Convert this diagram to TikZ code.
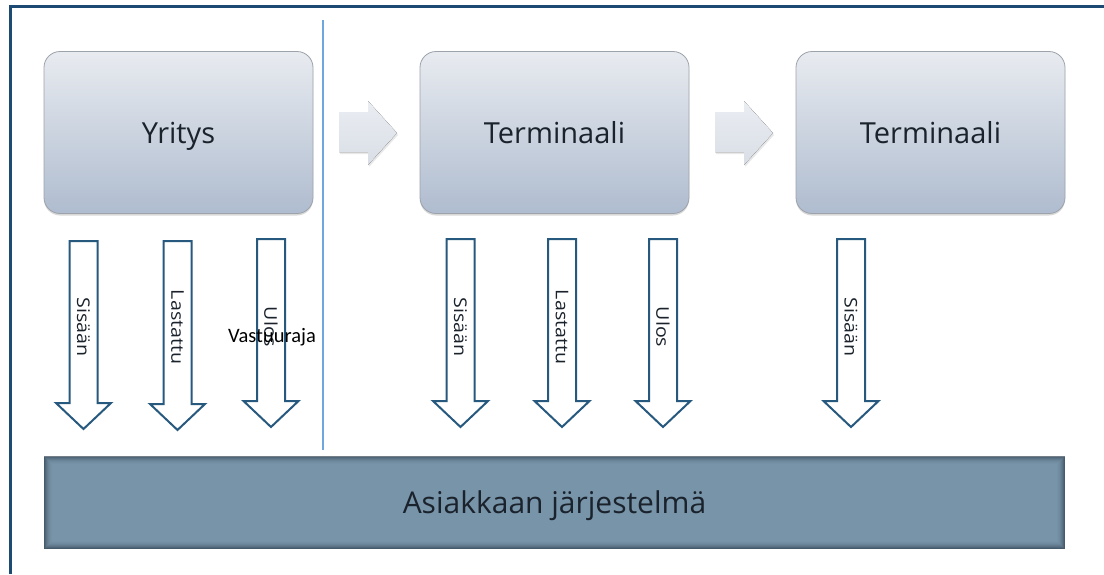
\documentclass[tikz,border=0pt]{standalone}
\usepackage{graphicx}
\usepackage{fontspec}
\setmainfont{Open Sans}
\newfontfamily\calibfont{Carlito}
\usetikzlibrary{shadows,calc}

\definecolor{framec}{HTML}{1C4A73}
\definecolor{arrowc}{HTML}{27597F}
\definecolor{linec}{HTML}{6FA6DC}
\definecolor{boxtop}{HTML}{E8EBF0}
\definecolor{boxbot}{HTML}{AFBCCF}
\definecolor{boxedge}{HTML}{9DA3AB}
\definecolor{basefill}{HTML}{7894A9}
\definecolor{baseedge}{HTML}{2A3B4A}
\definecolor{txt}{HTML}{1A222C}
\definecolor{steptop}{HTML}{EAEDF2}
\definecolor{stepbot}{HTML}{D9DEE6}

\tikzset{
  stagebox/.style={draw=boxedge, line width=0.8, rounded corners=16,
    top color=boxtop, bottom color=boxbot, minimum width=269, minimum height=162,
    inner sep=0, font=\fontsize{29}{34}\selectfont, text=txt,
    text height=21, text depth=0,
    drop shadow={opacity=0.3, shadow xshift=0pt, shadow yshift=-2pt}},
  basebox/.style={fill=basefill, minimum width=1021, minimum height=92, inner sep=0},
  basetext/.style={font=\fontsize{30}{36}\selectfont, text=txt, inner sep=0,
    text height=22, text depth=0},
  flowarrow/.style={draw=arrowc, line width=2, fill=white, line join=miter},
  flowlabel/.style={rotate=-90, inner sep=0, font=\fontsize{17.5}{20}\selectfont, text=txt},
  flowstep/.style={top color=steptop, bottom color=stepbot,
    drop shadow={opacity=0.18, shadow xshift=1pt, shadow yshift=-2pt}},
  boundary/.style={draw=linec, line width=1.2},
  framerule/.style={draw=framec, line width=2.5},
}

% a hollow down arrow with its rotated label: name, centre x, top y, tip y, text
\newcommand\flowdown[5]{%
  \draw[flowarrow] (#2-14,#3) -- (#2+14,#3) -- (#2+14,#4-26) -- (#2+27.5,#4-26)
    -- (#2,#4) -- (#2-27.5,#4-26) -- (#2-14,#4-26) -- cycle;
  \node[flowlabel] (#1) at (#2,327) {\scalebox{1.12}[1]{#5}};
}
% a light block arrow pointing right, starting at x = #1
\newcommand\stepright[1]{%
  \fill[flowstep] (#1,112) -- (#1+29,112) -- (#1+29,101) -- (#1+58,133)
    -- (#1+29,165) -- (#1+29,152) -- (#1,152) -- cycle;
}

\begin{document}
\begin{tikzpicture}[x=1pt,y=-1pt]
\useasboundingbox (0,0) rectangle (1104,574);
\fill[white] (0,0) rectangle (1104,574);

% outer frame (top and left edges)
\coordinate (fbl) at (10.5,574);
\coordinate (ftl) at (10.5,6.5);
\coordinate (ftr) at (1104,6.5);
\draw[framerule] (fbl) -- (ftl) -- (ftr);

% responsibility boundary
\coordinate (vtop) at (323,20);
\coordinate (vbot) at (323,450);
\draw[boundary] (vtop) -- (vbot);

% stages
\node[stagebox] (yritys) at (178.5,132.5) {Yritys};
\node[stagebox] (term1) at (554.5,132.5) {Terminaali};
\node[stagebox] (term2) at (930.5,132.5) {Terminaali};

\stepright{339}
\stepright{715}

% customer system bar with inner shading
\node[basebox] (base) at (554.5,502.5) {};
\foreach \i/\o in {0.5/0.65,1.5/0.5,2.5/0.38,3.5/0.27,4.5/0.18,5.5/0.11,6.5/0.06,7.5/0.03}
  \draw[baseedge, opacity=\o, line width=1]
    ($(base.north west)+(\i,\i)$) rectangle ($(base.south east)+(-\i,-\i)$);
\node[basetext] (basetext) at (base.center) {Asiakkaan järjestelmä};

% flows from the company
\flowdown{ysis}{83.5}{241}{429}{Sisään}
\flowdown{ylas}{177.5}{241}{430}{Lastattu}
\flowdown{yulo}{271}{239}{427}{Ulos}

% flows from the first terminal
\flowdown{asis}{460.5}{239}{427}{Sisään}
\flowdown{alas}{562}{239}{427}{Lastattu}
\flowdown{aulo}{663}{239}{427}{Ulos}

% flows from the second terminal
\flowdown{bsis}{851}{239}{427}{Sisään}

\node[font=\calibfont\fontsize{20.5}{24}\selectfont, inner sep=0] (vastuu) at (272,337) {Vastuuraja};
\end{tikzpicture}
\end{document}
